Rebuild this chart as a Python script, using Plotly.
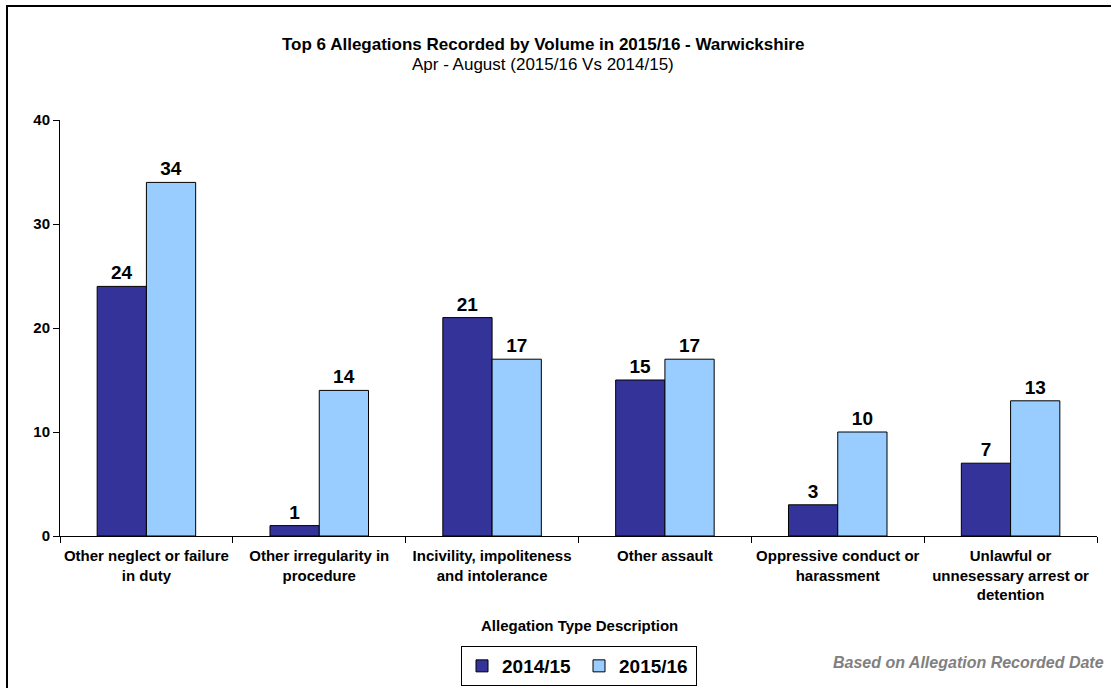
import plotly.graph_objects as go

categories = [
    "Other neglect or failure<br>in duty",
    "Other irregularity in<br>procedure",
    "Incivility, impoliteness<br>and intolerance",
    "Other assault",
    "Oppressive conduct or<br>harassment",
    "Unlawful or<br>unnesessary arrest or<br>detention",
]
values_2014 = [24, 1, 21, 15, 3, 7]
values_2015 = [34, 14, 17, 17, 10, 13]
y_ticks = [0, 10, 20, 30, 40]

FONT = "Liberation Sans, Arial, sans-serif"
W, H = 1111, 688
L, R, T, B = 60, 14, 120, 152
PW, PH = W - L - R, H - T - B

def px(x):
    return (x - L) / PW

def py(y):
    return (H - B - y) / PH

fig = go.Figure()
fig.add_trace(go.Bar(
    name="2014/15", x=categories, y=values_2014,
    marker=dict(color="#333399", line=dict(color="black", width=1)),
    text=values_2014, textposition="outside", cliponaxis=False,
    textfont=dict(family=FONT, size=19, color="black", weight="bold"),
))
fig.add_trace(go.Bar(
    name="2015/16", x=categories, y=values_2015,
    marker=dict(color="#99CCFF", line=dict(color="black", width=1)),
    text=values_2015, textposition="outside", cliponaxis=False,
    textfont=dict(family=FONT, size=19, color="black", weight="bold"),
))

fig.update_layout(
    width=W, height=H,
    margin=dict(l=L, r=R, t=T, b=B, autoexpand=False),
    paper_bgcolor="white", plot_bgcolor="white",
    barmode="group", bargap=0.43, bargroupgap=0,
    font=dict(family=FONT, color="black"),
    showlegend=True,
    legend=dict(
        orientation="h", x=px(579), y=py(666), xanchor="center", yanchor="middle",
        bordercolor="black", borderwidth=1, bgcolor="white",
        font=dict(family=FONT, size=19, color="black", weight="bold"),
        itemwidth=30, tracegroupgap=0, traceorder="normal",
        entrywidth=72, entrywidthmode="pixels",
    ),
    xaxis=dict(
        automargin=False, tickangle=0,
        showline=True, linecolor="black", linewidth=1,
        ticks="outside", tickson="boundaries", ticklen=6, tickcolor="black",
        ticklabelstandoff=6,
        tickfont=dict(family=FONT, size=15, color="black", weight="bold"),
        showgrid=False,
    ),
    yaxis=dict(
        automargin=False,
        range=[0, 40], tickvals=y_ticks,
        showline=True, linecolor="black", linewidth=1,
        ticks="outside", ticklen=6, tickcolor="black",
        tickfont=dict(family=FONT, size=15, color="black", weight="bold"),
        showgrid=False, zeroline=False,
    ),
    annotations=[
        dict(text="<b>Top 6 Allegations Recorded by Volume in 2015/16 - Warwickshire</b>",
             xref="paper", yref="paper", x=px(543), y=py(44), xanchor="center", yanchor="middle",
             showarrow=False, font=dict(family=FONT, size=17, color="black")),
        dict(text="Apr - August (2015/16 Vs 2014/15)",
             xref="paper", yref="paper", x=px(543), y=py(64), xanchor="center", yanchor="middle",
             showarrow=False, font=dict(family=FONT, size=17, color="black")),
        dict(text="<b>Allegation Type Description</b>",
             xref="paper", yref="paper", x=px(579), y=py(625), xanchor="center", yanchor="middle",
             showarrow=False, font=dict(family=FONT, size=15, color="black")),
        dict(text="<b><i>Based on Allegation Recorded Date</i></b>",
             xref="paper", yref="paper", x=px(1106), y=py(662), xanchor="right", yanchor="middle",
             showarrow=False, font=dict(family=FONT, size=16, color="#808080")),
    ],
    shapes=[
        dict(type="line", xref="paper", yref="paper", x0=px(7), x1=px(7), y0=py(5), y1=py(688),
             line=dict(color="black", width=2)),
        dict(type="line", xref="paper", yref="paper", x0=px(6), x1=px(1111), y0=py(6), y1=py(6),
             line=dict(color="black", width=2)),
    ],
)

fig.write_html("out.html")
